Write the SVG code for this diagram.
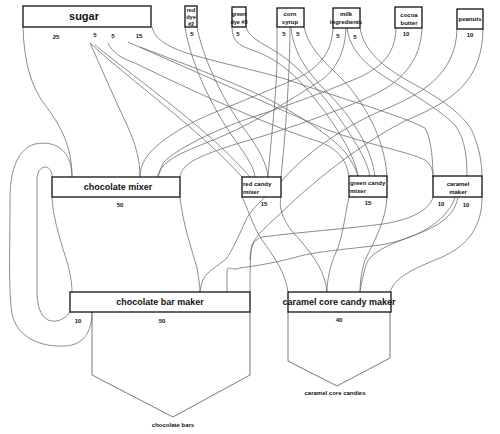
<svg xmlns="http://www.w3.org/2000/svg" width="500" height="434" viewBox="0 0 500 434">
<style>
.bg{fill:#fff}
.box{fill:#fff;stroke:#111;stroke-width:1.3}
.out{fill:none;stroke:#555;stroke-width:0.8}
.f{fill:none;stroke:#666;stroke-width:0.75}
.t{font-family:"Liberation Sans",Arial,sans-serif;font-weight:bold;fill:#111;text-anchor:middle}
.tl{font-family:"Liberation Sans",Arial,sans-serif;font-weight:bold;fill:#111}
.big{font-size:9px}
.sm{font-size:6px}
.xs{font-size:5.5px}
</style>
<rect class="bg" x="0" y="0" width="500" height="434"/>
<g id="connectors">
<!-- sugar 25 -> chocolate mixer -->
<path class="f" d="M23,27 C24,60 30,85 45,105 C60,125 72,145 72,177"/>
<path class="f" d="M90,43 C100,65 115,100 127,125 C136,145 140,160 140,177"/>
<!-- loop bar maker -> chocolate mixer -->
<path class="f" d="M92,312 C92,330 85,345 65,346 C40,347 20,338 13,318 C8,300 10,250 10,200 C10,175 15,150 35,144 C55,140 72,150 72,177"/>
<path class="f" d="M70,312 C65,320 55,323 48,320 C40,316 37,305 37,290 L37,180 C37,170 42,167 46,167 C50,168 52,172 52,177"/>
<!-- sugar 5 -> red candy mixer -->
<path class="f" d="M90,43 C130,80 200,130 242,177"/>
<path class="f" d="M95,45 C140,82 210,130 250,177"/>
<!-- sugar 5 -> green candy mixer -->
<path class="f" d="M108,43 C112,52 120,58 135,63 C200,95 280,130 320,142 C340,150 347,162 349,177"/>
<path class="f" d="M140,47 C190,66 240,85 270,100 C300,116 330,135 345,152 C352,162 357,170 358,177"/>
<!-- sugar 15 -> caramel maker -->
<path class="f" d="M128,42 C180,65 260,100 320,127 C360,143 410,152 425,160 C432,165 433,172 433,177"/>
<path class="f" d="M152,27 C155,42 175,50 200,57 C240,68 270,73 300,84 C340,98 400,115 425,128 C432,140 433,165 433,177"/>
<!-- red dye -> red candy mixer -->
<path class="f" d="M185,27 C190,60 210,105 235,140 C248,158 254,168 255,177"/>
<path class="f" d="M197,27 C202,55 222,100 245,130 C260,150 267,165 268,177"/>
<!-- green dye -> green candy mixer -->
<path class="f" d="M232,27 C232,42 240,46 255,51 C285,62 305,85 325,112 C343,137 356,160 358,177"/>
<path class="f" d="M246,27 C248,35 256,40 270,48 C295,62 315,85 335,112 C355,140 368,162 370,177"/>
<!-- corn syrup -> red candy mixer -->
<path class="f" d="M277,27 L277,62 C276,100 270,150 268,177"/>
<path class="f" d="M290,27 C290,60 287,120 281,177"/>
<!-- corn syrup -> green candy mixer -->
<path class="f" d="M291,27 C293,50 305,70 325,90 C355,120 372,150 375,177"/>
<path class="f" d="M304,27 C308,45 320,58 335,72 C365,100 385,140 387,177"/>
<!-- milk -> chocolate mixer -->
<path class="f" d="M333,28 C332,50 322,65 300,77 C270,90 240,102 213,113 C185,125 160,140 148,155 C142,163 140,170 140,177"/>
<path class="f" d="M346,28 C345,50 338,70 317,83 C290,100 255,122 225,135 C195,148 170,155 160,170 L157,177"/>
<!-- cocoa butter -> chocolate mixer -->
<path class="f" d="M396,28 C395,52 385,65 360,77 C330,90 290,105 250,118 C210,132 175,150 163,163 L158,177"/>
<path class="f" d="M422,28 C421,55 408,75 383,90 C360,103 300,125 250,140 C215,150 195,158 187,165 C182,170 180,174 180,177"/>
<!-- milk -> caramel maker -->
<path class="f" d="M347,28 C350,50 365,65 390,80 C410,92 440,110 455,125 C466,140 467,160 467,177"/>
<path class="f" d="M360,28 C364,50 380,65 410,82 C440,98 465,115 473,133 C480,150 482,165 482,177"/>
<!-- peanuts -> chocolate bar maker -->
<path class="f" d="M457,29 C456,75 420,95 383,110 C340,128 300,158 280,183 C262,200 250,210 245,222 C238,238 232,250 227,258 C218,266 206,272 203,280 C201,285 200,290 200,292"/>
<path class="f" d="M483,29 C482,80 455,100 407,120 C370,138 320,175 282,212 C268,225 256,235 252,245 C250,255 250,275 250,292"/>
<!-- caramel maker -> chocolate bar maker -->
<path class="f" d="M433,197 C430,210 410,220 383,224 C345,229 300,232 262,237 C252,240 250,250 250,260"/>
<path class="f" d="M455,197 C450,215 425,238 380,245 C350,249 320,251 300,256 C280,262 255,266 240,268 C230,272 227,262 227,275 L227,292"/>
<!-- caramel maker -> caramel core candy maker -->
<path class="f" d="M458,197 C455,215 440,225 420,233 C390,244 370,252 366,265 C363,275 361,285 360,292"/>
<path class="f" d="M482,197 C482,225 470,245 440,258 C410,270 395,278 390,292"/>
<!-- green candy mixer -> caramel core candy maker -->
<path class="f" d="M349,197 C345,215 343,235 337,250 C330,265 327,280 327,292"/>
<path class="f" d="M387,197 C386,220 375,240 365,260 C361,272 360,285 360,292"/>
<!-- red candy mixer -> caramel core candy maker -->
<path class="f" d="M242,197 C248,208 252,225 262,240 C275,258 285,272 288,292"/>
<path class="f" d="M281,197 C278,210 285,225 300,240 C315,258 325,272 327,292"/>
<!-- chocolate mixer -> chocolate bar maker -->
<path class="f" d="M52,197 C53,220 62,245 68,265 C71,278 72,285 72,292"/>
<path class="f" d="M180,197 C183,225 192,250 197,268 C199,280 200,286 200,292"/>
</g>
<g id="sugar">
<rect class="box" x="23" y="6" width="128" height="21"/>
<text class="t" x="84" y="20" font-size="11">sugar</text>
<text class="t sm" x="56" y="39">25</text>
<text class="t sm" x="95" y="37">5</text>
<text class="t sm" x="113" y="38">5</text>
<text class="t sm" x="139" y="38">15</text>
</g>
<g id="red-dye">
<rect class="box" x="185" y="6" width="12" height="21"/>
<text class="t xs" x="191" y="12">red</text>
<text class="t xs" x="191" y="19">dye</text>
<text class="t xs" x="191" y="26">#2</text>
<text class="t sm" x="192" y="36">5</text>
</g>
<g id="green-dye">
<rect class="box" x="232" y="7" width="14" height="20"/>
<text class="t xs" x="239" y="16">green</text>
<text class="t xs" x="239" y="24">dye #3</text>
<text class="t sm" x="238" y="36">5</text>
</g>
<g id="corn-syrup">
<rect class="box" x="277" y="8" width="27" height="19"/>
<text class="t sm" x="290" y="16">corn</text>
<text class="t sm" x="290" y="24">syrup</text>
<text class="t sm" x="284" y="36">5</text>
<text class="t sm" x="298" y="36">5</text>
</g>
<g id="milk-ingredients">
<rect class="box" x="333" y="8" width="27" height="20"/>
<text class="t sm" x="346" y="16">milk</text>
<text class="t sm" x="346" y="24">ingredients</text>
<text class="t sm" x="338" y="38">5</text>
<text class="t sm" x="355" y="39">5</text>
</g>
<g id="cocoa-butter">
<rect class="box" x="395" y="7" width="27" height="21"/>
<text class="t sm" x="409" y="17">cocoa</text>
<text class="t sm" x="409" y="25">butter</text>
<text class="t sm" x="406" y="36">10</text>
</g>
<g id="peanuts">
<rect class="box" x="457" y="9" width="26" height="20"/>
<text class="t sm" x="470" y="21">peanuts</text>
<text class="t sm" x="470" y="37">10</text>
</g>
<g id="chocolate-mixer">
<rect class="box" x="52" y="177" width="128" height="20"/>
<text class="t big" x="118" y="190">chocolate mixer</text>
<text class="t sm" x="120" y="207">50</text>
</g>
<g id="red-candy-mixer">
<rect class="box" x="242" y="177" width="39" height="20"/>
<text class="tl sm" x="243" y="186">red candy</text>
<text class="tl sm" x="243" y="194">mixer</text>
<text class="t sm" x="264" y="206">15</text>
</g>
<g id="green-candy-mixer">
<rect class="box" x="349" y="176" width="38" height="21"/>
<text class="tl sm" x="350" y="185">green candy</text>
<text class="tl sm" x="350" y="193">mixer</text>
<text class="t sm" x="368" y="205">15</text>
</g>
<g id="caramel-maker">
<rect class="box" x="433" y="176" width="49" height="21"/>
<text class="t sm" x="458" y="186">caramel</text>
<text class="t sm" x="458" y="194">maker</text>
<text class="t sm" x="441" y="206">10</text>
<text class="t sm" x="466" y="207">10</text>
</g>
<g id="chocolate-bar-maker">
<path class="out" d="M92,312 L92,375 L173,417 L250,375 L250,312"/>
<rect class="box" x="70" y="292" width="180" height="20"/>
<text class="t big" x="160" y="305">chocolate bar maker</text>
<text class="t sm" x="78" y="323">10</text>
<text class="t sm" x="162" y="323">50</text>
<text class="t sm" x="173" y="427">chocolate bars</text>
</g>
<g id="caramel-core-candy-maker">
<path class="out" d="M288,312 L288,361 L337,386 L390,358 L390,312"/>
<rect class="box" x="288" y="292" width="103" height="20"/>
<text class="t big" x="339" y="305" font-size="8.6">caramel core candy maker</text>
<text class="t sm" x="339" y="322">40</text>
<text class="t sm" x="335" y="395">caramel core candies</text>
</g>
</svg>
